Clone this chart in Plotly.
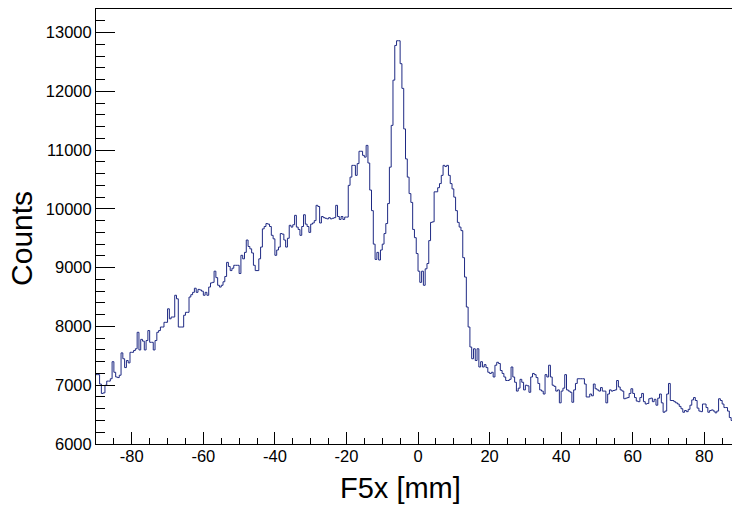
import plotly.graph_objects as go

# Histogram binning (F5x in mm)
x_min = -90.0
bin_width = 0.5

# Counts per 0.5 mm bin, starting at -90 mm
counts_a = [  # -90 .. -66.5
    7180, 7180, 7020, 6860, 6870, 7000, 7070, 7070, 7110, 7400,
    7220, 7140, 7130, 7170, 7550, 7450, 7300, 7420, 7380, 7560,
    7560, 7590, 7620, 7900, 7600, 7780, 7750, 7600, 7760, 7930,
    7730, 7730, 7600, 7760, 7900, 7930, 7990, 7990, 8070, 8070,
    8300, 8130, 8160, 8160, 8530, 8470, 7990, 7990,
]
counts_b = [  # -66 .. -42.5
    7990, 8190, 8240, 8240, 8500, 8540, 8580, 8650, 8580, 8630,
    8620, 8600, 8530, 8580, 8530, 8670, 8740, 8750, 8940, 8830,
    8700, 8670, 8700, 8760, 8850, 9090, 9020, 8950, 8990, 9040,
    9040, 9040, 8900, 9210, 9150, 9260, 9470, 9360, 9320, 9250,
    9040, 8950, 8950, 9150, 9350, 9660, 9700, 9750,
]
counts_c = [  # -42 .. -18.5
    9740, 9700, 9550, 9490, 9210, 9300, 9350, 9580, 9570, 9470,
    9350, 9500, 9720, 9690, 9730, 9890, 9690, 9650, 9550, 9700,
    9900, 9740, 9700, 9600, 9740, 9760, 9800, 10060, 10040, 9760,
    9870, 9850, 9840, 9830, 9850, 9830, 9840, 9850, 10060, 9870,
    9820, 9870, 9820, 9860, 9860, 10400, 10540, 10740,
]
counts_d = [  # -18 .. 5.5
    10740, 10570, 10770, 10980, 10980, 10910, 10880, 11080, 10780, 10320,
    9970, 9400, 9140, 9260, 9130, 9300, 9400, 9580, 9750, 10090,
    10710, 11420, 12190, 12780, 12860, 12860, 12470, 12050, 11360, 10850,
    10540, 10260, 10110, 9650, 9510, 9240, 8940, 8750, 8940, 8700,
    8980, 9070, 9460, 9770, 9780, 10290, 10290, 10360,
]
counts_e = [  # 6 .. 29.5
    10430, 10570, 10740, 10720, 10740, 10570, 10430, 10340, 10200, 9970,
    9770, 9690, 9630, 9170, 8840, 8330, 7990, 7650, 7450, 7620,
    7420, 7620, 7310, 7400, 7310, 7350, 7300, 7220, 7200, 7220,
    7140, 7340, 7390, 7370, 7250, 7200, 7140, 7080, 7080, 7100,
    7310, 7140, 7050, 6900, 6950, 7100, 7050, 6920,
]
counts_f = [  # 30 .. 53.5
    7000, 6990, 6880, 7140, 7200, 7180, 7130, 7030, 6920, 6900,
    6850, 7180, 7140, 7340, 7140, 7000, 6980, 6900, 6920, 6700,
    6900, 6950, 7180, 6920, 6900, 6880, 6710, 6920, 7030, 7110,
    7110, 7110, 7110, 7020, 6800, 6800, 6850, 6820, 7020, 6940,
    6920, 6900, 6960, 6900, 6900, 6700, 6850, 6920,
]
counts_g = [  # 54 .. 77.5
    6900, 6910, 6920, 7080, 6970, 6920, 6900, 6770, 6780, 6790,
    6860, 6940, 6860, 6790, 6730, 6720, 6790, 6860, 6720, 6680,
    6690, 6770, 6780, 6720, 6760, 6660, 6780, 6850, 6700, 6540,
    6560, 6850, 7030, 6740, 6740, 6720, 6700, 6680, 6640, 6600,
    6540, 6570, 6550, 6590, 6660, 6750, 6790, 6740,
]
counts_h = [  # 78 .. 87.5
    6610, 6560, 6550, 6680, 6680, 6620, 6540, 6570, 6580, 6560,
    6530, 6560, 6770, 6740, 6680, 6620, 6620, 6560, 6450, 6400,
]

counts = counts_a + counts_b + counts_c + counts_d + counts_e + counts_f + counts_g + counts_h
edges = [x_min + i * bin_width for i in range(len(counts) + 1)]

x_ticks = [-80, -60, -40, -20, 0, 20, 40, 60, 80]
y_ticks = [6000, 7000, 8000, 9000, 10000, 11000, 12000, 13000]

FONT = "Liberation Sans, Arial, Helvetica, sans-serif"
LINE_COLOR = "#1f2a84"

fig = go.Figure()
fig.add_trace(go.Scatter(
    x=edges,
    y=counts + [counts[-1]],
    mode="lines",
    line=dict(shape="hv", color=LINE_COLOR, width=1),
    hoverinfo="skip",
    showlegend=False,
))

fig.update_layout(
    width=732, height=505,
    autosize=False,
    margin=dict(l=96, r=0, t=9, b=61, autoexpand=False),
    paper_bgcolor="white", plot_bgcolor="white",
    font=dict(family=FONT, color="black"),
    xaxis=dict(
        range=[-90, 87.75],
        tickvals=x_ticks, ticktext=[str(v) for v in x_ticks],
        ticks="inside", ticklen=12, tickwidth=1, tickcolor="black",
        minor=dict(dtick=5, tick0=0, ticks="inside", ticklen=6, tickcolor="black", tickwidth=1),
        showline=True, linecolor="black", linewidth=1, mirror=True,
        showgrid=False, zeroline=False,
        tickfont=dict(size=16.5, family=FONT),
        ticklabelstandoff=-3,
    ),
    yaxis=dict(
        range=[6000, 13400],
        tickvals=y_ticks, ticktext=[str(v) for v in y_ticks],
        ticks="inside", ticklen=19, tickwidth=1, tickcolor="black",
        minor=dict(dtick=200, tick0=6000, ticks="inside", ticklen=9, tickcolor="black", tickwidth=1),
        showline=True, linecolor="black", linewidth=1, mirror=False,
        showgrid=False, zeroline=False,
        tickfont=dict(size=16.5, family=FONT),
        ticklabelstandoff=0,
    ),
    annotations=[
        dict(text="F5x [mm]", xref="paper", yref="paper", x=0.478, y=-0.101,
             showarrow=False, xanchor="center", yanchor="middle",
             font=dict(size=29, family=FONT, color="black")),
        dict(text="Counts", xref="paper", yref="paper", x=-0.1164, y=0.4736,
             showarrow=False, xanchor="center", yanchor="middle", textangle=-90,
             font=dict(size=30, family=FONT, color="black")),
    ],
)

fig.write_html("out.html", config={"responsive": False, "displayModeBar": False})

# remove default page margins so the figure sits at the window origin
with open("out.html", "r", encoding="utf-8") as f:
    html = f.read()
html = html.replace(
    "<head>",
    "<head><style>html,body{margin:0;padding:0;overflow:hidden;}</style>",
    1,
)
with open("out.html", "w", encoding="utf-8") as f:
    f.write(html)
